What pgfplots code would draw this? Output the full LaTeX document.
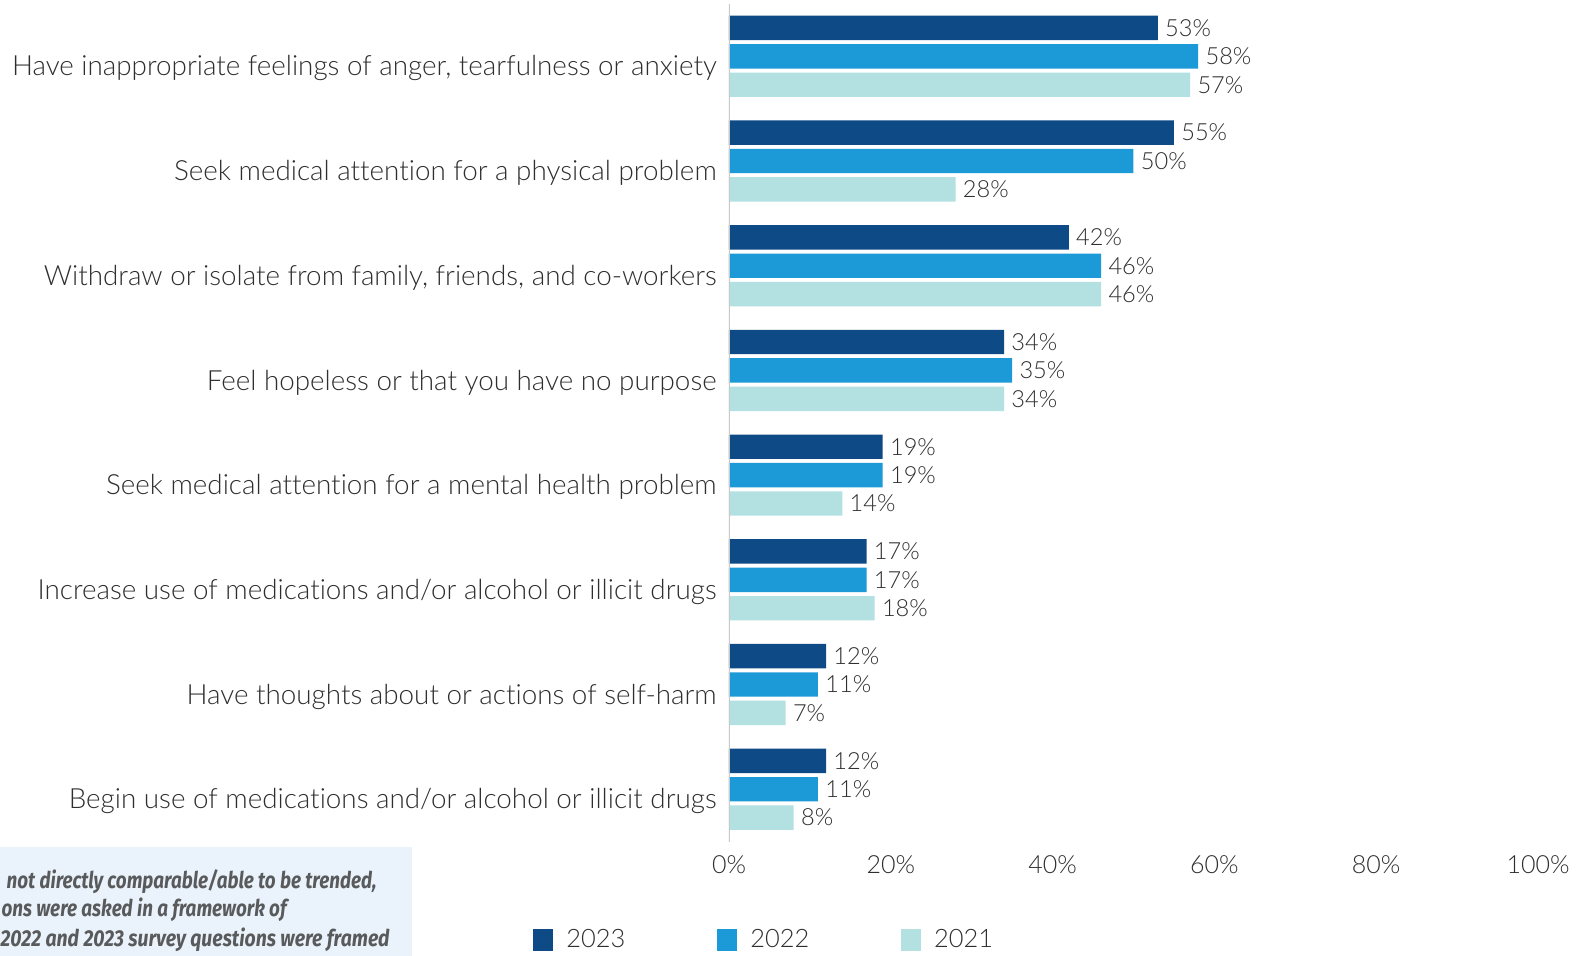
\documentclass[border=0pt]{standalone}
\usepackage{pgfplots}
\pgfplotsset{compat=1.18}
\usepackage{pgfplotstable}
\usepackage{fontspec}
\usepackage{graphicx}
\setmainfont{Lato}[UprightFont=* Light, Ligatures=NoCommon]
\newfontfamily\notefont{Fira Sans}
\definecolor{cA}{HTML}{0E4B86}
\definecolor{cB}{HTML}{1B9AD7}
\definecolor{cC}{HTML}{B3E0E1}
\definecolor{txt}{HTML}{2E2E2E}
\definecolor{axgrey}{HTML}{C9C9C9}
\definecolor{notebg}{HTML}{EAF3FB}
\definecolor{notetxt}{HTML}{595A5C}
\pgfplotstableread{
y v23 v22 v21
7 53 58 57
6 55 50 28
5 42 46 46
4 34 35 34
3 19 19 14
2 17 17 18
1 12 11 7
0 12 11 8
}\data
\begin{document}
\begin{tikzpicture}
\useasboundingbox (0,0) rectangle (796pt,478pt);
\clip (0,0) rectangle (796pt,478pt);
\fill[notebg] (0,0) rectangle (206pt,54.5pt);
\node[anchor=base east, inner sep=0pt, text=notetxt] at (188.5pt,33.5pt) {\scalebox{0.82}[1]{\notefont\fontsize{11.5}{13}\selectfont\bfseries\itshape not directly comparable/able to be trended,}};
\node[anchor=base east, inner sep=0pt, text=notetxt] at (143.5pt,19.5pt) {\scalebox{0.82}[1]{\notefont\fontsize{11.5}{13}\selectfont\bfseries\itshape ons were asked in a framework of}};
\node[anchor=base east, inner sep=0pt, text=notetxt] at (195pt,4.8pt) {\scalebox{0.845}[1]{\notefont\fontsize{11.5}{13}\selectfont\bfseries\itshape 2022 and 2023 survey questions were framed}};
\begin{axis}[
  at={(364.5pt,57.2pt)}, anchor=south west,
  scale only axis, width=404.5pt, height=418.8pt,
  xbar, bar width=12.2pt,
  xmin=0, xmax=100, ymin=-0.5, ymax=7.5,
  axis line style={draw=none},
  major tick length=0pt,
  /pgf/number format/assume math mode=true,
  xtick={0,20,...,100},
  xticklabel={\pgfmathprintnumber{\tick}\%},
  xticklabel style={font=\fontsize{12.5}{14}\selectfont, text=txt, inner sep=0pt, yshift=-7pt},
  ytick={0,...,7},
  yticklabels={Begin use of medications and/or alcohol or illicit drugs,
    Have thoughts about or actions of self-harm,
    Increase use of medications and/or alcohol or illicit drugs,
    Seek medical attention for a mental health problem,
    Feel hopeless or that you have no purpose,
    {Withdraw or isolate from family, friends, and co-workers},
    Seek medical attention for a physical problem,
    {Have inappropriate feelings of anger, tearfulness or anxiety}},
  yticklabel style={font=\fontsize{13.9}{16}\selectfont, text=txt, inner sep=0pt, xshift=-6pt, yshift=-6pt},
  nodes near coords={\pgfmathprintnumber{\pgfplotspointmeta}\%},
  every node near coord/.append style={font=\fontsize{11.8}{13}\selectfont, text=txt, anchor=west, inner sep=0pt, xshift=3.5pt},
  legend style={at={(-0.2423,-0.1175)}, anchor=west, draw=none, fill=none, inner sep=0pt,
    legend columns=3, font=\fontsize{12.7}{15}\selectfont, text=txt,
    /tikz/every even column/.append style={column sep=44pt}},
  legend image code/.code={\fill[#1, draw=none] (0pt,-5.5pt) rectangle (10pt,5.5pt); \path (14.5pt,0pt);},
]
\addplot[fill=cA, draw=none, bar shift=14.2pt] table[x=v23, y=y] {\data};
\addplot[fill=cB, draw=none, bar shift=0pt] table[x=v22, y=y] {\data};
\addplot[fill=cC, draw=none, bar shift=-14.2pt] table[x=v21, y=y] {\data};
\draw[axgrey, line width=1pt] (axis cs:0,-0.5) -- (axis cs:0,7.5);
\legend{2023,2022,2021}
\end{axis}
\end{tikzpicture}
\end{document}
